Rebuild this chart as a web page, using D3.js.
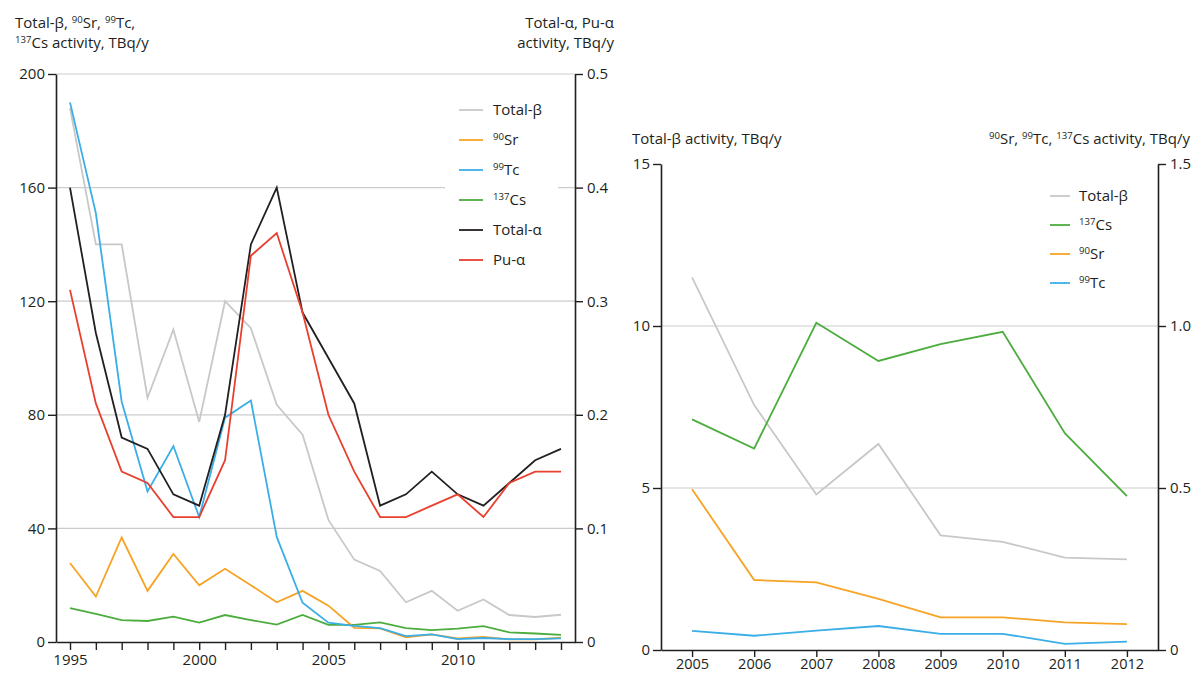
<!DOCTYPE html>
<html>
<head>
<meta charset="utf-8">
<script src="https://cdn.jsdelivr.net/npm/d3@7"></script>
<style>
  html, body { margin: 0; padding: 0; background: #fff; }
  svg { display: block; }
  text { font-family: "Open Sans", "Noto Sans", sans-serif; fill: #231f20; }
</style>
</head>
<body>
<svg id="chart" width="1194" height="675"></svg>
<script>
// ---------- Data: left panel (1995-2014) ----------
const yearsL = [1995,1996,1997,1998,1999,2000,2001,2002,2003,2004,2005,2006,2007,2008,2009,2010,2011,2012,2013,2014];
const totalBetaL = [188,140,140,86,110,77.5,120,110.5,83.5,73,43,29,25,14,18,11,15,9.5,8.8,9.6];
const sr90L      = [27.8,16,36.8,18,31,20,25.8,20,14,18,12.8,5,4.8,1.6,2.7,1.3,1.8,0.9,0.9,1.5];
const tc99L      = [190,151,84.6,53,69,44,79,85,37,13.8,6.8,5.7,4.9,2.1,2.7,1.0,1.4,1.0,1.0,1.3];
const cs137L     = [11.9,9.9,7.7,7.4,8.9,6.8,9.5,7.7,6.1,9.5,6.0,6.0,6.9,4.9,4.2,4.7,5.6,3.4,3.0,2.5];
const totalAlphaL= [0.40,0.272,0.18,0.17,0.13,0.12,0.20,0.35,0.40,0.29,0.25,0.21,0.12,0.13,0.15,0.13,0.12,0.14,0.16,0.17];
const puAlphaL   = [0.31,0.21,0.15,0.14,0.11,0.11,0.16,0.34,0.36,0.29,0.20,0.15,0.11,0.11,0.12,0.13,0.11,0.14,0.15,0.15];
const leftTicksL  = [0,40,80,120,160,200];
const rightTicksL = [0,0.1,0.2,0.3,0.4,0.5];
const xLabelYearsL = [1995,2000,2005,2010];

// ---------- Data: right panel (2005-2012) ----------
const yearsR = [2005,2006,2007,2008,2009,2010,2011,2012];
const totalBetaR = [11.5,7.56,4.8,6.36,3.54,3.34,2.85,2.80];
const cs137R     = [0.712,0.622,1.01,0.892,0.944,0.982,0.669,0.475];
const sr90R      = [0.496,0.216,0.209,0.158,0.101,0.101,0.085,0.080];
const tc99R      = [0.059,0.044,0.060,0.074,0.050,0.050,0.019,0.026];
const leftTicksR  = [0,5,10,15];
const rightTicksR = [0,0.5,1.0,1.5];

// ---------- Styles ----------
const C = { beta:"#c8c8c8", sr:"#f7a325", tc:"#3aaee6", cs:"#4cad3e", alpha:"#231f20", pu:"#e8402f" };
const AXIS = "#231f20", GRID = "#cccccc";
const FS = 15;

const svg = d3.select("#chart");

// rich text helper: parts = [[text, isSup], ...]
function rich(sel, parts, size) {
  parts.forEach((p, i) => {
    const t = sel.append("tspan").text(p[0]);
    if (p[1]) { t.attr("font-size", size * 0.64).attr("dy", -size * 0.36); }
    else if (i > 0 && parts[i-1][1]) { t.attr("dy", size * 0.36); }
  });
}
const SUP = s => [s, true];
const N = s => [s, false];

function styleAxis(g) {
  g.selectAll("path.domain").attr("stroke", AXIS).attr("stroke-width", 1.6);
  g.selectAll(".tick line").attr("stroke", AXIS).attr("stroke-width", 1.4);
  g.selectAll(".tick text").attr("font-size", FS).attr("fill", AXIS)
    .style("font-family", '"Open Sans", sans-serif');
}

// ================= LEFT PANEL =================
const xL  = d3.scaleLinear().domain([1994.458, 2014.542]).range([56, 575]);
const yL  = d3.scaleLinear().domain([0, 200]).range([642, 74]);
const yLa = d3.scaleLinear().domain([0, 0.5]).range([642, 74]);

const gL = svg.append("g");
// grid
gL.selectAll("line.grid").data(leftTicksL.filter(d => d > 0)).join("line")
  .attr("x1", xL.range()[0]).attr("x2", xL.range()[1])
  .attr("y1", d => yL(d)).attr("y2", d => yL(d))
  .attr("stroke", GRID).attr("stroke-width", 1.2);

// legend background (covers grid)
gL.append("rect").attr("x", 445).attr("y", 92).attr("width", 113).attr("height", 186).attr("fill", "#fff");

const lineL = (arr, sc) => d3.line().x((d, i) => xL(yearsL[i])).y(d => sc(d))(arr);
const seriesL = [
  { v: totalBetaL, s: yL, c: C.beta },
  { v: cs137L, s: yL, c: C.cs },
  { v: sr90L, s: yL, c: C.sr },
  { v: tc99L, s: yL, c: C.tc },
  { v: totalAlphaL, s: yLa, c: C.alpha },
  { v: puAlphaL, s: yLa, c: C.pu }
];
gL.selectAll("path.series").data(seriesL).join("path")
  .attr("d", d => lineL(d.v, d.s)).attr("fill", "none")
  .attr("stroke", d => d.c).attr("stroke-width", 1.8)
  .attr("stroke-linejoin", "miter");

// axes
gL.append("g").attr("transform", `translate(0,${yL(0)})`)
  .call(d3.axisBottom(xL).tickValues(yearsL).tickSize(8).tickSizeOuter(0).tickPadding(4)
    .tickFormat(d => xLabelYearsL.includes(d) ? String(d) : ""))
  .call(styleAxis);
gL.append("g").attr("transform", `translate(56,0)`)
  .call(d3.axisLeft(yL).tickValues(leftTicksL).tickSize(8).tickSizeOuter(0).tickPadding(3).tickFormat(d3.format("d")))
  .call(styleAxis);
gL.append("g").attr("transform", `translate(575,0)`)
  .call(d3.axisRight(yLa).tickValues(rightTicksL).tickSize(8).tickSizeOuter(0).tickPadding(4)
    .tickFormat(d => d === 0 ? "0" : d3.format(".1f")(d)))
  .call(styleAxis);

// legend
const legL = [
  { c: C.beta, t: [N("Total-β")] },
  { c: C.sr, t: [SUP("90"), N("Sr")] },
  { c: C.tc, t: [SUP("99"), N("Tc")] },
  { c: C.cs, t: [SUP("137"), N("Cs")] },
  { c: C.alpha, t: [N("Total-α")] },
  { c: C.pu, t: [N("Pu-α")] }
];
const lgL = gL.append("g");
legL.forEach((d, i) => {
  const y = 110 + i * 30;
  lgL.append("line").attr("x1", 459).attr("x2", 483).attr("y1", y).attr("y2", y)
    .attr("stroke", d.c).attr("stroke-width", 1.8);
  const t = lgL.append("text").attr("x", 493).attr("y", y + FS * 0.36).attr("font-size", FS);
  rich(t, d.t, FS);
});

// titles
const tL1 = gL.append("text").attr("x", 15).attr("y", 28).attr("font-size", FS);
rich(tL1, [N("Total-β, "), SUP("90"), N("Sr, "), SUP("99"), N("Tc,")], FS);
const tL2 = gL.append("text").attr("x", 15).attr("y", 48).attr("font-size", FS);
rich(tL2, [SUP("137"), N("Cs activity, TBq/y")], FS);
gL.append("text").attr("x", 614).attr("y", 28).attr("text-anchor", "end").attr("font-size", FS).text("Total-α, Pu-α");
gL.append("text").attr("x", 614).attr("y", 48).attr("text-anchor", "end").attr("font-size", FS).text("activity, TBq/y");

// ================= RIGHT PANEL =================
const xR  = d3.scaleLinear().domain([2004.5, 2012.5]).range([661, 1158]);
const yR  = d3.scaleLinear().domain([0, 15]).range([650, 164]);
const yR2 = d3.scaleLinear().domain([0, 1.5]).range([650, 164]);

const gR = svg.append("g");
gR.selectAll("line.grid").data([5, 10]).join("line")
  .attr("x1", xR.range()[0]).attr("x2", xR.range()[1])
  .attr("y1", d => yR(d)).attr("y2", d => yR(d))
  .attr("stroke", GRID).attr("stroke-width", 1.2);

const lineR = (arr, sc) => d3.line().x((d, i) => xR(yearsR[i])).y(d => sc(d))(arr);
const seriesR = [
  { v: totalBetaR, s: yR, c: C.beta },
  { v: cs137R, s: yR2, c: C.cs },
  { v: sr90R, s: yR2, c: C.sr },
  { v: tc99R, s: yR2, c: C.tc }
];
gR.selectAll("path.series").data(seriesR).join("path")
  .attr("d", d => lineR(d.v, d.s)).attr("fill", "none")
  .attr("stroke", d => d.c).attr("stroke-width", 1.8);

gR.append("g").attr("transform", `translate(0,${yR(0)})`)
  .call(d3.axisBottom(xR).tickValues(yearsR).tickSize(7).tickSizeOuter(0).tickPadding(2).tickFormat(d3.format("d")))
  .call(styleAxis)
  .call(g => g.selectAll(".tick text").attr("font-size", 14.5));
gR.append("g").attr("transform", `translate(661,0)`)
  .call(d3.axisLeft(yR).tickValues(leftTicksR).tickSize(8).tickSizeOuter(0).tickPadding(3).tickFormat(d3.format("d")))
  .call(styleAxis);
gR.append("g").attr("transform", `translate(1158,0)`)
  .call(d3.axisRight(yR2).tickValues(rightTicksR).tickSize(8).tickSizeOuter(0).tickPadding(4)
    .tickFormat(d => d === 0 ? "0" : d3.format(".1f")(d)))
  .call(styleAxis);

const legR = [
  { c: C.beta, t: [N("Total-β")] },
  { c: C.cs, t: [SUP("137"), N("Cs")] },
  { c: C.sr, t: [SUP("90"), N("Sr")] },
  { c: C.tc, t: [SUP("99"), N("Tc")] }
];
legR.forEach((d, i) => {
  const y = 196 + i * 29;
  gR.append("line").attr("x1", 1050).attr("x2", 1070).attr("y1", y).attr("y2", y)
    .attr("stroke", d.c).attr("stroke-width", 1.8);
  const t = gR.append("text").attr("x", 1079).attr("y", y + FS * 0.36).attr("font-size", FS);
  rich(t, d.t, FS);
});

gR.append("text").attr("x", 632).attr("y", 144).attr("font-size", FS).text("Total-β activity, TBq/y");
const tR2 = gR.append("text").attr("x", 1190).attr("y", 144).attr("text-anchor", "end").attr("font-size", FS);
rich(tR2, [SUP("90"), N("Sr, "), SUP("99"), N("Tc, "), SUP("137"), N("Cs activity, TBq/y")], FS);
</script>
</body>
</html>
